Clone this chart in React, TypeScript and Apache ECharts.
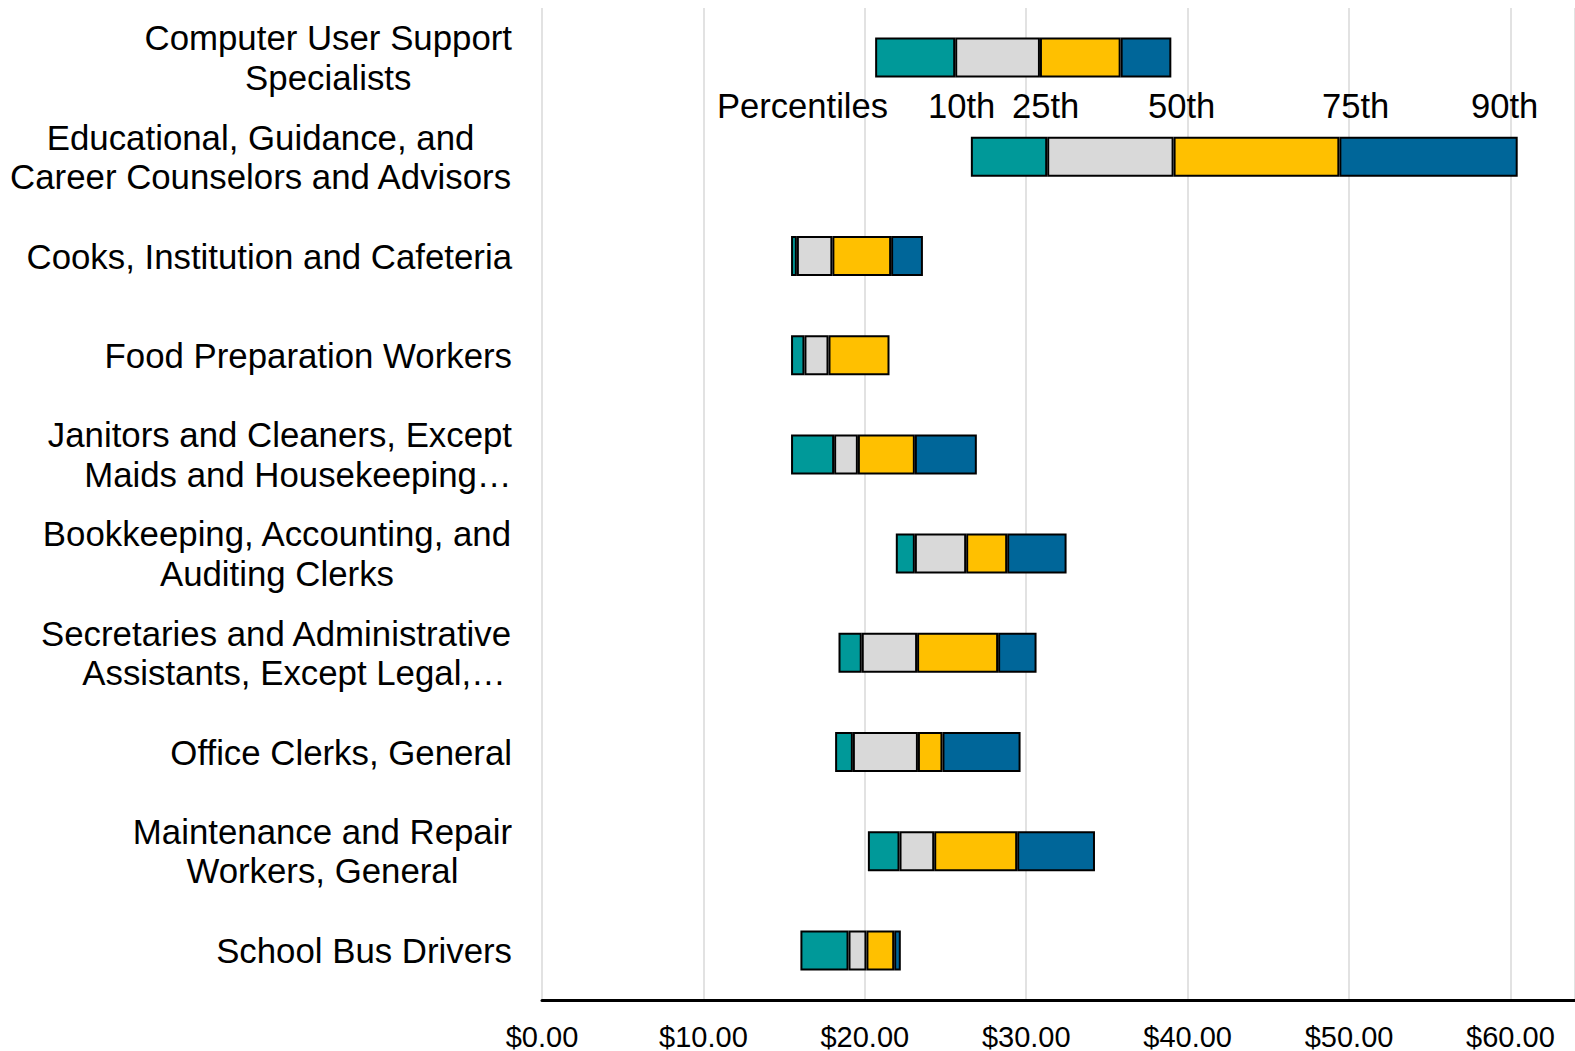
import React, { useEffect, useRef } from 'react';
import * as echarts from 'echarts';

const categories = [
  'Computer User Support\nSpecialists',
  'Educational, Guidance, and\nCareer Counselors and Advisors',
  'Cooks, Institution and Cafeteria',
  'Food Preparation Workers',
  'Janitors and Cleaners, Except\nMaids and Housekeeping…',
  'Bookkeeping, Accounting, and\nAuditing Clerks',
  'Secretaries and Administrative\nAssistants, Except Legal,…',
  'Office Clerks, General',
  'Maintenance and Repair\nWorkers, General',
  'School Bus Drivers',
];

const p10 = [20.64, 26.57, 15.43, 15.43, 15.43, 21.92, 18.37, 18.16, 20.19, 16.01];
const p25 = [25.6, 31.3, 15.79, 16.26, 18.1, 23.1, 19.81, 19.26, 22.15, 18.99];
const p50 = [30.85, 39.13, 17.99, 17.75, 19.57, 26.28, 23.24, 23.29, 24.3, 20.1];
const p75 = [35.85, 49.4, 21.63, 21.53, 23.1, 28.82, 28.26, 24.81, 29.44, 21.82];
const p90: (number | null)[] = [38.99, 60.45, 23.6, null, 26.94, 32.5, 30.64, 29.65, 34.26, 22.23];

const percentileLabels = ['Percentiles', '10th', '25th', '50th', '75th', '90th'];
const percentileLabelX = [717, 928, 1012, 1148, 1322, 1471];

const segmentColors = ['#009999', '#d9d9d9', '#ffc000', '#006699'];
const FONT = "'Liberation Sans', Arial, sans-serif";

function diff(a: (number | null)[], b: (number | null)[]) {
  return a.map((v, i) => (v == null || b[i] == null ? null : +((v as number) - (b[i] as number)).toFixed(2)));
}

export default function App() {
  const ref = useRef<HTMLDivElement>(null);
  useEffect(() => {
    if (!ref.current) return;
    const chart = echarts.init(ref.current, undefined, { renderer: 'svg' });
    const segs = [diff(p25, p10), diff(p50, p25), diff(p75, p50), diff(p90, p75)];
    const series: any[] = [
      {
        type: 'bar',
        stack: 'pct',
        data: p10,
        barWidth: 40,
        itemStyle: { color: 'rgba(0,0,0,0)', borderWidth: 0 },
        silent: true,
      },
      ...segs.map((d, k) => ({
        type: 'bar',
        stack: 'pct',
        data: d,
        barWidth: 40,
        itemStyle: { color: segmentColors[k], borderColor: '#000', borderWidth: 2 },
        silent: true,
      })),
    ];
    chart.setOption({
      animation: false,
      grid: { left: 542, right: 0, top: 8, bottom: 50, containLabel: false },
      xAxis: {
        type: 'value',
        min: 0,
        max: 64,
        interval: 10,
        axisLine: { show: true, lineStyle: { color: '#000', width: 3 } },
        axisTick: { show: false },
        splitLine: { show: true, lineStyle: { color: '#d9d9d9', width: 1.5 } },
        axisLabel: {
          showMaxLabel: false,
          margin: 22,
          fontSize: 29,
          color: '#000',
          fontFamily: FONT,
          formatter: (v: number) => '$' + v.toFixed(2),
        },
      },
      yAxis: {
        type: 'category',
        inverse: true,
        data: categories,
        axisLine: { show: false },
        axisTick: { show: false },
        splitLine: { show: false },
        axisLabel: {
          margin: 30,
          fontSize: 34.8,
          lineHeight: 39.5,
          color: '#000',
          fontFamily: FONT,
          formatter: (v: string) =>
            v
              .split('\n')
              .map((l) => (l.endsWith('…') ? '{pad|\u00a0}' : '') + `{c|${l}}`)
              .join('\n'),
          rich: {
            c: { align: 'center', fontSize: 34.8, lineHeight: 39.5, color: '#000', fontFamily: FONT },
            pad: { align: 'center', width: 36, fontSize: 34.8, lineHeight: 39.5, fontFamily: FONT },
          },
        },
      },
      series,
      graphic: percentileLabels.map((t, i) => ({
        type: 'text',
        x: percentileLabelX[i],
        y: 106,
        silent: true,
        style: {
          text: t,
          fontSize: 34.6,
          fontFamily: FONT,
          fill: '#000',
          textAlign: 'left',
          textVerticalAlign: 'middle',
        },
        z: 10,
      })),
    });
    return () => chart.dispose();
  }, []);
  return <div ref={ref} style={{ position: 'absolute', left: 0, top: 0, width: 1575, height: 1051 }} />;
}
